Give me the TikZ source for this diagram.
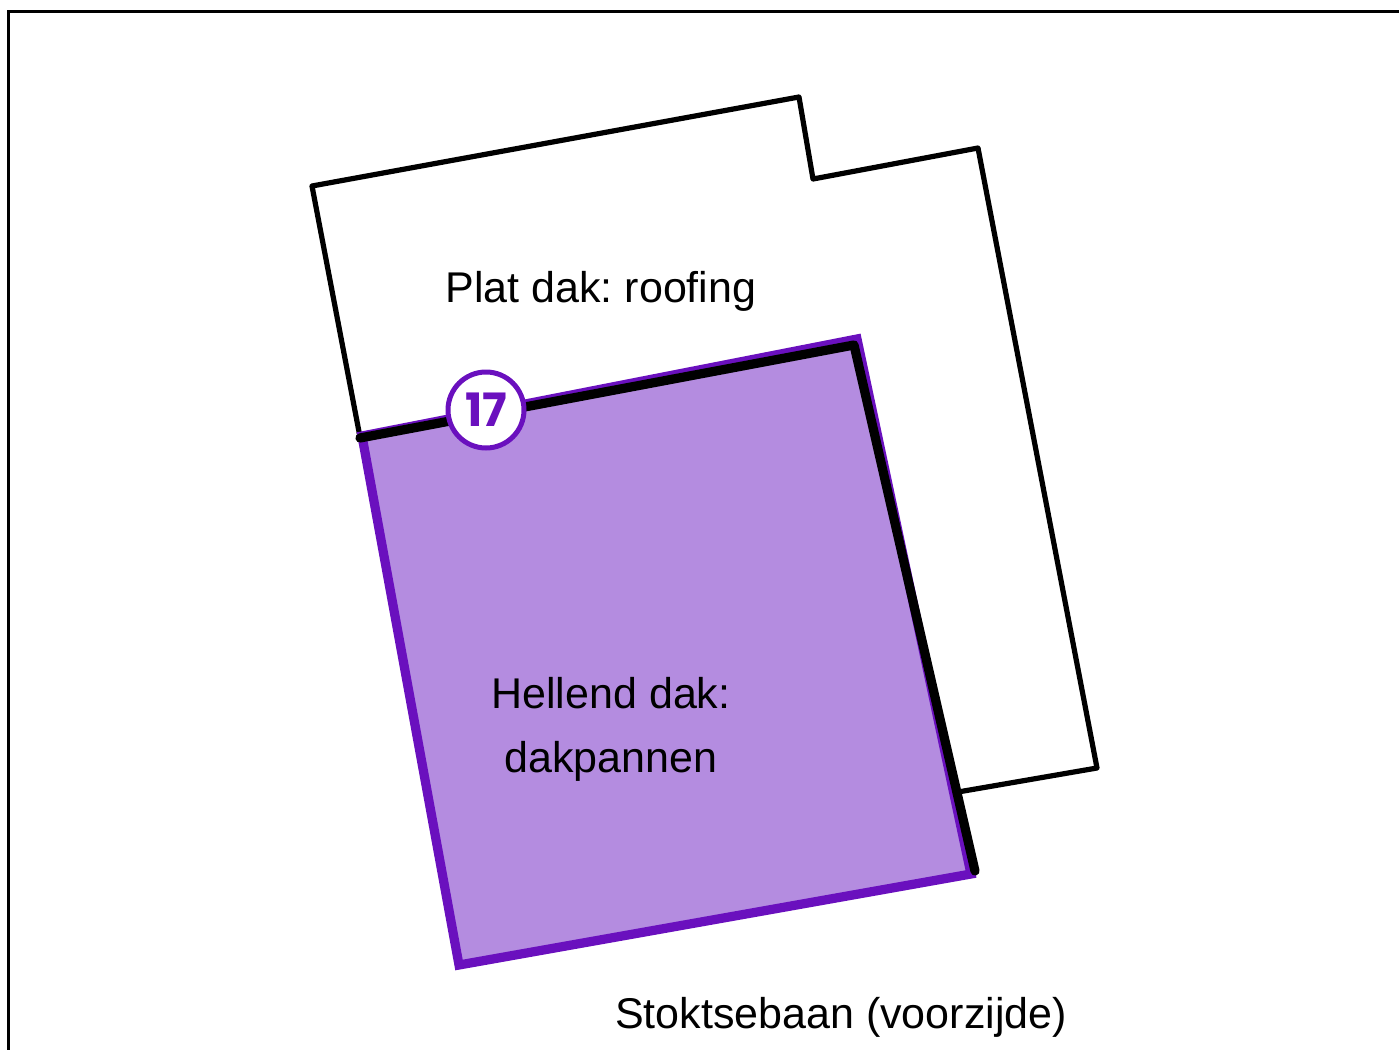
\documentclass[tikz,border=0pt]{standalone}
\usepackage{fontspec}
\setmainfont{Liberation Sans}
\newfontfamily\badgefont{Poppins}
\frenchspacing
\definecolor{roofline}{HTML}{6A10BE}
\definecolor{rooffill}{HTML}{B48CE0}
\tikzset{
  roomtext/.style={font=\fontsize{21.5}{32}\selectfont, inner sep=0pt, align=center},
  badge/.style={shape=circle, draw=roofline, line width=2.5pt, fill=white, minimum size=38pt, inner sep=0pt, text=roofline, font=\badgefont\bfseries\fontsize{23}{23}\selectfont},
}
\begin{document}
\begin{tikzpicture}[x=0.5pt,y=-0.5pt]
            \useasboundingbox (0,0) rectangle (1399,1050);
            % frame
            \draw[line width=1.5pt] (8,1070) -- (8,11) -- (1420,11);

            % building outline
            \draw[line width=2.6pt, line join=round] (360,437) -- (312,186) -- (799,97) -- (813,179) -- (978,148) -- (1097,768) -- (958,792);

            % sloped roof
            \draw[line width=4.6pt, draw=roofline, fill=rooffill] (362,436) -- (857,339) -- (971,874) -- (459,965) -- cycle;
            \draw[line width=4.6pt, line cap=round, line join=round] (360,438) -- (854,345) -- (975,871);

            % labels
            \node[badge] (b17) at (486,410) {17};
            \node[roomtext, anchor=base] (flat) at (601,302) {Plat dak: roofing};
            \node[roomtext] (sloped) at (611,729) {Hellend dak:\\dakpannen};
            \node[roomtext, anchor=base] (street) at (841,1028) {Stoktsebaan (voorzijde)};
        \end{tikzpicture}
\end{document}
